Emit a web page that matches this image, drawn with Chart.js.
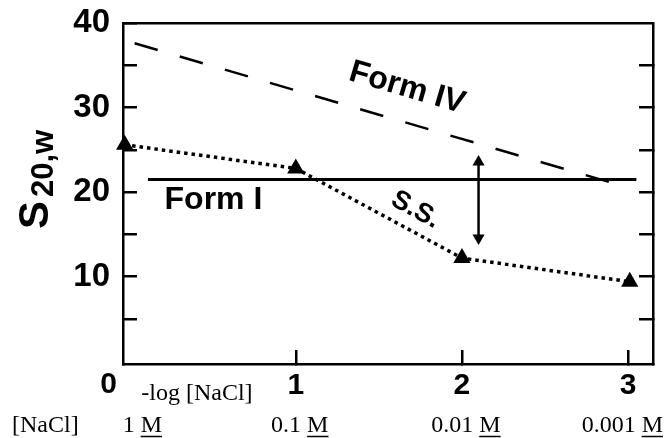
<!DOCTYPE html>
<html>
<head>
<meta charset="utf-8">
<script src="https://cdn.jsdelivr.net/npm/chart.js@4/dist/chart.umd.min.js"></script>
<style>
html,body{margin:0;padding:0;background:#fff;}
#wrap{width:665px;height:438px;}
</style>
</head>
<body>
<div id="wrap"><canvas id="c" width="665" height="438"></canvas></div>
<script>
// ---- data ----
const xTickValues = [1, 2, 3];                 // -log [NaCl]
const yTickValues = [5, 10, 15, 20, 25, 30, 35, 40];
const concValues = [0, 1, 2, 3];
const concLabels = ['1', '0.1', '0.01', '0.001'];
const ssX = [-0.03, 1.0, 2.0, 3.01];
const ssY = [25.6, 22.8, 12.2, 9.4];
const formIX = [0.11, 3.05];
const formIY = [21.5, 21.5];
const formIVX = [0.03, 2.99];
const formIVY = [37.6, 20.6];
const arrowX = [2.1, 2.1];
const arrowY = [23.56, 14.57];

const SANS = '"Liberation Sans", Arial, Helvetica, sans-serif';
const SERIF = '"Liberation Serif", "Times New Roman", serif';
const toPts = (xs, ys) => xs.map((v, i) => ({x: v, y: ys[i]}));

const annot = {
  id: 'annot',
  afterDraw(chart) {
    const {ctx, scales} = chart;
    const x = scales.x, y = scales.y;
    const px = v => x.getPixelForValue(v), py = v => y.getPixelForValue(v);
    ctx.save();
    ctx.fillStyle = '#000';
    ctx.strokeStyle = '#000';

    function rotText(t, cx, cy, ang, font) {
      ctx.save();
      ctx.translate(cx, cy);
      ctx.rotate(ang);
      ctx.font = font;
      ctx.textAlign = 'center';
      ctx.textBaseline = 'middle';
      ctx.fillText(t, 0, 0);
      ctx.restore();
    }
    // Form IV label, parallel to its dashed line
    const a4 = Math.atan2(py(formIVY[1]) - py(formIVY[0]), px(formIVX[1]) - px(formIVX[0]));
    rotText('Form IV', px(1.67), py(32.3), a4, 'bold 32px ' + SANS);
    // S.S. label, parallel to the steep segment
    const aS = Math.atan2(py(ssY[2]) - py(ssY[1]), px(ssX[2]) - px(ssX[1]));
    rotText('S.S.', px(1.72), py(17.9), aS, 'bold 27px ' + SANS);
    // Form I label
    ctx.font = 'bold 32px ' + SANS;
    ctx.textAlign = 'left';
    ctx.textBaseline = 'middle';
    ctx.fillText('Form I', px(0.21), py(19.1));

    // origin "0"
    ctx.font = 'bold 30px ' + SANS;
    ctx.textAlign = 'center';
    ctx.fillText('0', px(0) - 21, y.bottom + 21);

    // axis caption
    ctx.font = '24px ' + SERIF;
    ctx.textAlign = 'left';
    ctx.textBaseline = 'alphabetic';
    ctx.fillText('-log [NaCl]', px(0.07), y.bottom + 36);

    // [NaCl] row
    const base = y.bottom + 68;
    ctx.fillText('[NaCl]', 12, base);
    concValues.forEach((v, i) => {
      const num = concLabels[i] + ' ';
      const wNum = ctx.measureText(num).width;
      const wM = ctx.measureText('M').width;
      const w = wNum + wM;
      let left;
      if (i === 0) left = px(v) - 7;
      else if (i === concValues.length - 1) left = 663 - w;
      else left = px(v) - w / 2 + 4;
      ctx.fillText(num, left, base);
      ctx.fillText('M', left + wNum, base);
      ctx.lineWidth = 1.5;
      ctx.beginPath();
      ctx.moveTo(left + wNum, base + 4.5);
      ctx.lineTo(left + wNum + wM, base + 4.5);
      ctx.stroke();
    });

    // y axis title  S 20,w
    ctx.save();
    ctx.translate(48, 229);
    ctx.rotate(-Math.PI / 2);
    ctx.font = 'bold 42px ' + SANS;
    ctx.textAlign = 'left';
    ctx.textBaseline = 'alphabetic';
    ctx.fillText('S', 0, 0);
    ctx.font = 'bold 31px ' + SANS;
    ctx.fillText('20,w', 32, 5);
    ctx.restore();

    ctx.restore();
  }
};

const common = {min: -0.33, max: 40};
const noPad = s => { s.paddingTop = 0; s.paddingBottom = 0; s.paddingLeft = 0; s.paddingRight = 0; };

new Chart(document.getElementById('c'), {
  type: 'scatter',
  data: {
    datasets: [
      {
        label: 'S.S.',
        data: toPts(ssX, ssY),
        showLine: true,
        borderColor: '#000',
        borderWidth: 3.5,
        borderDash: [3.5, 4],
        borderCapStyle: 'butt',
        pointStyle: 'triangle',
        pointRadius: 10,
        pointBorderWidth: 0,
        pointBackgroundColor: '#000',
        clip: false
      },
      {
        label: 'Form I',
        data: toPts(formIX, formIY),
        showLine: true,
        borderColor: '#000',
        borderWidth: 3,
        pointRadius: 0,
        clip: false
      },
      {
        label: 'Form IV',
        data: toPts(formIVX, formIVY),
        showLine: true,
        borderColor: '#000',
        borderWidth: 2.5,
        borderDash: [24, 23],
        pointRadius: 0,
        clip: false
      },
      {
        label: 'difference',
        data: toPts(arrowX, arrowY),
        showLine: true,
        borderColor: '#000',
        borderWidth: 2.5,
        pointStyle: 'triangle',
        pointRadius: 7,
        pointBorderWidth: 0,
        pointBackgroundColor: '#000',
        pointRotation: c => (c.dataIndex === 0 ? 0 : 180),
        clip: false
      }
    ]
  },
  options: {
    responsive: false,
    animation: false,
    devicePixelRatio: 1,
    layout: {padding: 0},
    plugins: {legend: {display: false}, tooltip: {enabled: false}},
    scales: {
      x: {
        type: 'linear',
        position: 'bottom',
        min: -0.04,
        max: 3.15,
        afterBuildTicks: s => { s.ticks = xTickValues.map(v => ({value: v})); },
        afterFit: s => { s.height = 74; noPad(s); },
        ticks: {
          color: '#000',
          padding: 18,
          font: {family: SANS, size: 30, weight: 'bold'},
          callback: v => String(v)
        },
        grid: {drawOnChartArea: false, drawTicks: true, tickLength: -14, lineWidth: 2.5, color: '#000'},
        border: {display: true, width: 2.5, color: '#000'}
      },
      xTop: {
        type: 'linear',
        position: 'top',
        min: -0.04,
        max: 3.15,
        afterFit: s => { s.height = 23; noPad(s); },
        ticks: {display: false},
        grid: {drawOnChartArea: false, drawTicks: false},
        border: {display: true, width: 2.5, color: '#000'}
      },
      y: {
        type: 'linear',
        position: 'left',
        min: common.min,
        max: common.max,
        afterBuildTicks: s => { s.ticks = yTickValues.map(v => ({value: v})); },
        afterFit: s => { s.width = 123; noPad(s); },
        ticks: {
          color: '#000',
          padding: 27,
          font: {family: SANS, size: 33, weight: 'bold'},
          callback: v => (v % 10 === 0 ? String(v) : '')
        },
        grid: {drawOnChartArea: false, drawTicks: true, tickLength: -14, lineWidth: 2.5, color: '#000'},
        border: {display: true, width: 2.5, color: '#000'}
      },
      yRight: {
        type: 'linear',
        position: 'right',
        min: common.min,
        max: common.max,
        afterBuildTicks: s => { s.ticks = yTickValues.filter(v => v < 40).map(v => ({value: v})); },
        afterFit: s => { s.width = 12; noPad(s); },
        ticks: {display: false},
        grid: {drawOnChartArea: false, drawTicks: true, tickLength: -14, lineWidth: 2.5, color: '#000'},
        border: {display: true, width: 2.5, color: '#000'}
      }
    }
  },
  plugins: [annot]
});
</script>
</body>
</html>
